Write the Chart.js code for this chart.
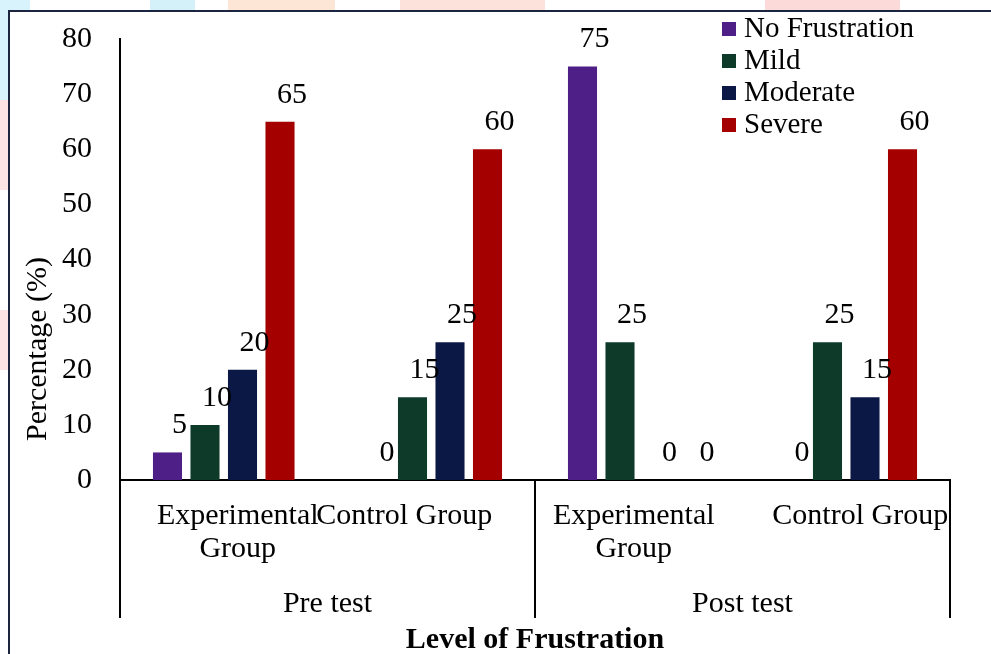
<!DOCTYPE html>
<html>
<head>
<meta charset="utf-8">
<script src="https://cdn.jsdelivr.net/npm/chart.js@4.4.0/dist/chart.umd.min.js"></script>
<style>
  html, body { margin: 0; padding: 0; background: #fff; }
  #wrap { position: relative; width: 991px; height: 654px; overflow: hidden; }
  #band { position: absolute; left: 0; top: 0; width: 991px; height: 10px;
    background: linear-gradient(90deg, #d8f3fb 0, #d8f3fb 30px, #fff 30px, #fff 150px, #d4f1fa 150px, #d4f1fa 195px,
      #fff 195px, #fff 228px, #fde6d6 228px, #fde6d6 335px, #fff 335px, #fff 400px, #fde2dc 400px, #fde2dc 545px,
      #fff 545px, #fff 765px, #fddada 765px, #fddada 900px, #fff 900px); }
  #side { position: absolute; left: 0; top: 10px; width: 8px; height: 644px;
    background: linear-gradient(180deg, #d8f3fb 0, #d8f3fb 90px, #fde4e4 90px, #fde4e4 180px, #fff 180px, #fff 300px, #fde4e4 300px, #fde4e4 360px, #fff 360px); }
  #frame { position: absolute; left: 8px; top: 10px; width: 990px; height: 650px;
    border-top: 2px solid #1b2540; border-left: 2px solid #1b2540; box-sizing: border-box; }
  canvas { position: absolute; left: 0; top: 0; }
</style>
</head>
<body>
<div id="wrap">
  <div id="band"></div>
  <div id="side"></div>
  <div id="frame"></div>
  <canvas id="chart" width="991" height="654"></canvas>
</div>
<script>
const groups = [["Experimental", "Group"], ["Control Group"], ["Experimental", "Group"], ["Control Group"]];
const phases = ["Pre test", "Post test"];
const seriesNames = ["No Frustration", "Mild", "Moderate", "Severe"];
const noFrustration = [5, 0, 75, 0];
const mild = [10, 15, 25, 25];
const moderate = [20, 25, 0, 15];
const severe = [65, 60, 0, 60];
const yTicks = [0, 10, 20, 30, 40, 50, 60, 70, 80];

const colors = ["#4e1f86", "#0e3a2a", "#0b1846", "#a50000"];
const serif = "'Liberation Serif', 'Times New Roman', serif";
const labelShift = [14, -27, -5, 14]; // category labels sit off-centre in the original

const extras = {
  id: "extras",
  afterDatasetsDraw(chart) {
    const ctx = chart.ctx;
    const x = chart.scales.x;
    const area = chart.chartArea;
    ctx.save();
    ctx.fillStyle = "#000";
    ctx.font = "30px " + serif;
    ctx.textAlign = "center";
    ctx.textBaseline = "middle";

    // value labels
    chart.data.datasets.forEach((ds, i) => {
      chart.getDatasetMeta(i).data.forEach((bar, j) => {
        ctx.fillText(String(ds.data[j]), bar.x + 12, bar.y - 27);
      });
    });

    // category labels
    groups.forEach((lines, i) => {
      const cx = x.getPixelForValue(i) + labelShift[i];
      lines.forEach((t, k) => ctx.fillText(t, cx, 516 + k * 33));
    });

    // phase labels and separators
    const bottom = 618;
    ctx.strokeStyle = "#000";
    ctx.lineWidth = 2;
    const edges = [area.left, (x.getPixelForValue(1) + x.getPixelForValue(2)) / 2, area.right];
    edges.forEach(ex => {
      ctx.beginPath();
      ctx.moveTo(ex, area.bottom);
      ctx.lineTo(ex, bottom);
      ctx.stroke();
    });
    phases.forEach((p, i) => {
      ctx.fillText(p, (edges[i] + edges[i + 1]) / 2, 604);
    });

    // axis titles
    ctx.font = "bold 30px " + serif;
    ctx.fillText("Level of Frustration", edges[1], 640);
    ctx.save();
    ctx.translate(38, 349);
    ctx.rotate(-Math.PI / 2);
    ctx.font = "30px " + serif;
    ctx.fillText("Percentage (%)", 0, 0);
    ctx.restore();

    // legend
    ctx.font = "29px " + serif;
    ctx.textAlign = "left";
    seriesNames.forEach((name, i) => {
      const ly = 29 + i * 32;
      ctx.fillStyle = colors[i];
      ctx.fillRect(722, ly - 7, 14, 14);
      ctx.fillStyle = "#000";
      ctx.fillText(name, 744, ly);
    });
    ctx.restore();
  }
};

const seriesData = [noFrustration, mild, moderate, severe];

new Chart(document.getElementById("chart"), {
  type: "bar",
  data: {
    labels: groups.map(g => g.join(" ")),
    datasets: seriesNames.map((name, i) => ({
      label: name,
      data: seriesData[i],
      backgroundColor: colors[i],
      categoryPercentage: 0.723,
      barPercentage: 0.775
    }))
  },
  options: {
    responsive: false,
    animation: false,
    layout: { padding: { top: 39, right: 41, left: 0, bottom: 0 } },
    plugins: { legend: { display: false }, tooltip: { enabled: false } },
    scales: {
      x: {
        grid: { display: false, drawTicks: false },
        border: { display: true, color: "#000", width: 2 },
        ticks: { display: false },
        afterFit(scale) { scale.height = 174; }
      },
      y: {
        min: 0,
        max: 80,
        afterBuildTicks(scale) { scale.ticks = yTicks.map(v => ({ value: v })); },
        grid: { display: false, drawTicks: false },
        border: { display: true, color: "#000", width: 2 },
        ticks: { color: "#000", padding: 28, font: { family: serif, size: 30 } },
        afterFit(scale) {
          scale.width = 120;
          scale.paddingTop = 0;
          scale.paddingBottom = 0;
        }
      }
    }
  },
  plugins: [extras]
});
</script>
</body>
</html>
